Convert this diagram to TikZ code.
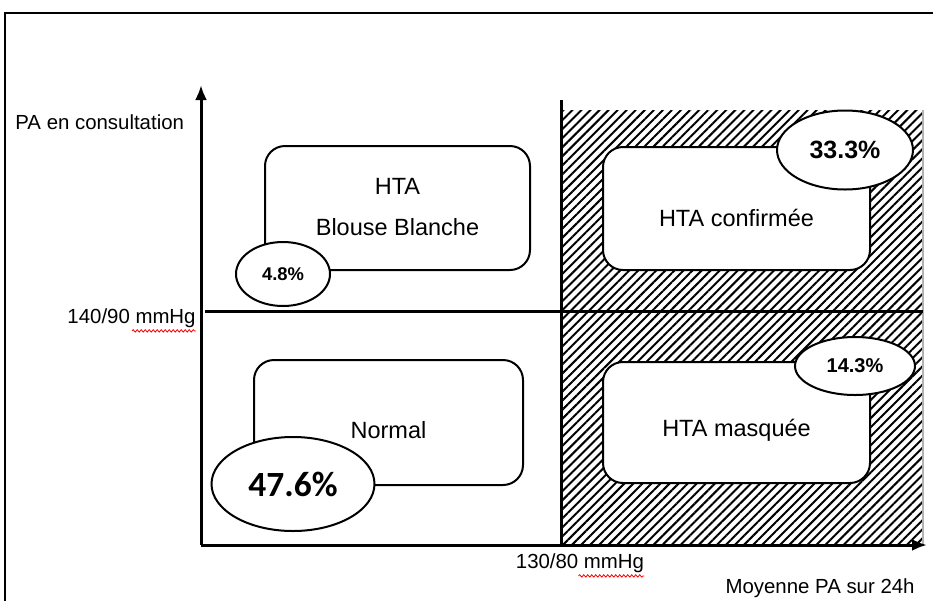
\documentclass[tikz,border=0pt]{standalone}
\usepackage{fontspec}
\setmainfont{Liberation Sans}
\newfontfamily\carlito{Carlito}
\usepackage{tikz}
\usetikzlibrary{shapes.geometric,arrows.meta,positioning,patterns.meta,decorations.pathmorphing}
\tikzstyle{axis} = [line width=1.5pt,->,>={Latex[length=7.5pt,width=6pt]}]
\tikzstyle{limit} = [line width=1.5pt]
\tikzstyle{zone} = [draw,line width=1pt,rounded corners=10pt,fill=white]
\tikzstyle{zonetext} = [font=\fontsize{11.75}{20.5}\selectfont,align=center]
\tikzstyle{rate} = [draw,ellipse,line width=1pt,fill=white,inner sep=0pt]
\tikzstyle{axislabel} = [font=\fontsize{10.2}{12}\selectfont,inner sep=0pt]
\tikzstyle{spell} = [red,line width=0.4pt,decorate,decoration={snake,amplitude=0.6pt,segment length=2pt}]

\begin{document}
\begin{tikzpicture}[x=0.5pt,y=-0.5pt]
        \useasboundingbox (0,0) rectangle (933,601);
        % frame
        \draw[line width=1pt] (5,601) -- (5,13) -- (933,13);

        % hatched zone
        \fill[pattern={Lines[angle=45,distance=3.2pt,line width=1pt]}] (561,110) rectangle (923,545);
        \draw[gray!60,line width=0.8pt] (923,110) -- (923,545);

        % axes
        \coordinate (origin) at (201,545);
        \coordinate (ytop) at (201,85);
        \coordinate (xend) at (927,545);
        \draw[axis] (origin) -- (ytop);
        \draw[axis] (origin) -- (xend);

        % thresholds
        \coordinate (hleft) at (205,311);
        \coordinate (hright) at (923,311);
        \coordinate (vtop) at (561,100);
        \coordinate (vbottom) at (561,545);
        \draw[limit] (hleft) -- (hright);
        \draw[limit] (vtop) -- (vbottom);

        % axis labels
        \node[axislabel,anchor=west] (ylabel) at (15,122) {PA en consultation};
        \node[axislabel,anchor=east] (lbl140) at (196,318) {140/90 mmHg};
        \node[axislabel] (lbl130) at (580,563) {130/80 mmHg};
        \node[axislabel,anchor=east] (xlabel) at (915,588) {Moyenne PA sur 24h};
        \draw[spell] ([xshift=-32pt,yshift=-1.5pt]lbl140.south east) -- ([yshift=-1.5pt]lbl140.south east);
        \draw[spell] ([xshift=-33pt,yshift=-1.5pt]lbl130.south east) -- ([yshift=-1.5pt]lbl130.south east);

        % zones
        \node[zone,
        minimum width=132.5pt,
        minimum height=62pt] (blouse) at (397.5,208) {};
        \node[zonetext] (blousetxt) at (397.5,207) {HTA\\Blouse Blanche};

        \node[zone,
        minimum width=133.5pt,
        minimum height=61.5pt] (confirm) at (736.5,208.5) {};
        \node[zonetext] (confirmtxt) at (736.5,218) {HTA confirmée};

        \node[zone,
        minimum width=134.5pt,
        minimum height=62.5pt] (normal) at (388.5,422.5) {};
        \node[zonetext] (normaltxt) at (388.5,430) {Normal};

        \node[zone,
        minimum width=133.5pt,
        minimum height=60.5pt] (masked) at (736.5,422.5) {};
        \node[zonetext] (maskedtxt) at (736.5,430) {HTA masquée};

        % rates
        \node[rate,
        minimum width=47pt,
        minimum height=32pt,
        font=\fontsize{9.2}{11}\selectfont\bfseries] (rate48) at (283,274) {4.8\%};
        \node[rate,
        minimum width=68pt,
        minimum height=39.5pt,
        font=\fontsize{12.5}{15}\selectfont\bfseries] (rate333) at (845,150) {33.3\%};
        \node[rate,
        minimum width=60pt,
        minimum height=29pt,
        font=\fontsize{10}{12}\selectfont\bfseries] (rate143) at (855,366) {14.3\%};
        \node[rate,
        minimum width=81.5pt,
        minimum height=47pt,
        font=\fontsize{17.7}{20}\selectfont\carlito\bfseries] (rate476) at (293,484) {47.6\%};

\end{tikzpicture}
\end{document}
